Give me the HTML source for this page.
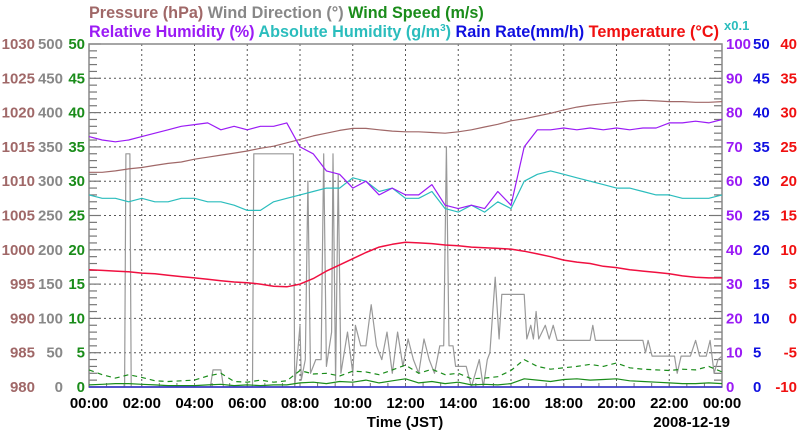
<!DOCTYPE html>
<html><head><meta charset="utf-8"><style>
html,body{margin:0;padding:0;background:#fff;}
svg{display:block;font-family:"Liberation Sans",Arial,sans-serif;}
</style></head><body>
<svg id="chart" width="800" height="434" viewBox="0 0 800 434" xmlns="http://www.w3.org/2000/svg">
<g font-size="16.2" font-weight="bold">
<text x="89" y="18"><tspan fill="#a06868">Pressure (hPa)</tspan> <tspan fill="#888">Wind Direction (°)</tspan> <tspan fill="#1a8c1a">Wind Speed (m/s)</tspan></text>
<text x="89" y="37"><tspan fill="#9b1bf5">Relative Humidity (%)</tspan> <tspan fill="#2bbdbd">Absolute Humidity (g/m</tspan><tspan fill="#2bbdbd" font-size="10" dy="-6">3</tspan><tspan fill="#2bbdbd" dy="6">)</tspan> <tspan fill="#1010e0">Rain Rate(mm/h)</tspan> <tspan fill="#f01010">Temperature (°C)</tspan></text>
<text x="724" y="30" font-size="13" fill="#2bbdbd">x0.1</text>
</g>
<g id="grid"></g><g id="axes"></g><g id="series"></g>
</svg>
<script>
const hours = [0,0.5,1,1.5,2,2.5,3,3.5,4,4.5,5,5.5,6,6.5,7,7.5,8,8.5,9,9.5,10,10.5,11,11.5,12,12.5,13,13.5,14,14.5,15,15.5,16,16.5,17,17.5,18,18.5,19,19.5,20,20.5,21,21.5,22,22.5,23,23.5,24];
const pressure = [1011.3,1011.3,1011.5,1011.8,1012.0,1012.3,1012.6,1012.8,1013.2,1013.5,1013.8,1014.1,1014.4,1014.8,1015.1,1015.6,1016.1,1016.6,1017.0,1017.4,1017.7,1017.7,1017.5,1017.3,1017.2,1017.2,1017.1,1017.0,1017.2,1017.5,1017.9,1018.3,1018.8,1019.1,1019.5,1019.9,1020.4,1020.8,1021.1,1021.3,1021.5,1021.7,1021.8,1021.7,1021.6,1021.6,1021.5,1021.5,1021.6];
const relHumidity = [73,72,71.5,72,73,74,75,76,76.5,77,75,76,75,76,76,77,70,68,63,62,58,60,56,58,56,56,59,53,52,53,52,57,53,70,75,75,75.5,75,75.5,75,75.5,75,75.5,75.5,77,77,77.5,77,78];
const absHumidity10 = [56,55,55,54,55,54,54,55,55,54,54,53,51.5,51.5,54,55,56,57,58,58,61,60,57,58,55,55,57,52,51,53,51,54,52,60,62,63,62,61,60,59,58,58,57,56,56,55,55,55,56];
const temperature = [7.1,7.0,6.9,6.8,6.6,6.5,6.3,6.1,5.9,5.7,5.5,5.3,5.2,5.0,4.7,4.6,5.0,5.8,6.9,7.8,8.7,9.6,10.4,10.8,11.1,11.0,10.9,10.7,10.6,10.4,10.3,10.2,10.1,9.8,9.4,9.0,8.5,8.2,8.0,7.6,7.4,7.1,6.9,6.7,6.5,6.2,6.0,5.9,5.9];
const windAvg = [0.3,0.4,0.5,0.5,0.4,0.3,0.2,0.2,0.2,0.3,0.4,0.2,0.3,0.2,0.3,0.3,0.6,0.7,0.5,0.8,0.7,1.0,0.6,0.9,1.2,0.6,0.8,0.5,0.7,0.3,0.4,0.3,0.5,1.2,1.0,0.8,1.1,1.2,1.0,1.1,1.2,0.9,0.8,0.7,0.6,0.5,0.5,0.6,0.5];
const windGust = [2.5,1.8,1.3,1.8,1.4,0.9,0.8,0.9,1.0,1.6,2.0,0.8,0.7,1.0,0.7,0.9,2.4,1.9,2.0,1.6,2.3,2.2,1.8,2.5,3.2,2.0,2.6,1.8,2.0,1.2,1.3,1.5,2.4,4.0,3.0,2.6,2.8,3.0,3.3,3.0,3.5,2.8,2.6,2.5,2.4,2.6,2.5,3.0,2.2];
const rainRate = [0,0,0,0,0,0,0,0,0,0,0,0,0,0,0,0,0,0,0,0,0,0,0,0,0,0,0,0,0,0,0,0,0,0,0,0,0,0,0,0,0,0,0,0,0,0,0,0,0];
const windDirTime = [0,1.35,1.4,1.55,1.6,4.6,4.7,5.0,5.1,6.2,6.25,7.75,7.8,8.0,8.05,8.2,8.3,8.4,8.6,8.8,8.9,9.0,9.2,9.25,9.35,9.45,9.55,9.8,10.0,10.1,10.3,10.5,10.7,10.9,11.1,11.3,11.5,11.7,11.9,12.1,12.3,12.5,12.7,12.9,13.1,13.3,13.45,13.55,13.65,13.8,13.9,14.3,14.5,14.8,14.95,15.1,15.2,15.4,15.55,15.65,16.5,16.6,16.75,16.85,16.95,17.05,17.3,17.45,17.6,17.75,19.0,19.1,19.2,21.0,21.1,21.2,21.35,22.2,22.3,22.45,22.8,23.0,23.15,23.4,23.55,23.7,23.85,24.0];
const windDir = [0,0,340,340,0,0,25,25,0,0,340,340,0,90,10,40,300,20,40,40,340,30,80,340,10,310,20,80,20,90,60,60,120,60,40,80,20,80,30,70,40,20,70,40,20,60,60,350,60,60,30,30,0,40,0,40,50,160,70,135,135,70,90,70,110,70,90,70,90,68,68,90,68,68,50,68,45,45,20,45,45,68,45,45,68,20,40,45];
const xTickLabels = ["00:00","02:00","04:00","06:00","08:00","10:00","12:00","14:00","16:00","18:00","20:00","22:00","00:00"];
const pressureTicks = [980,985,990,995,1000,1005,1010,1015,1020,1025,1030];
const windDirTicks = [0,50,100,150,200,250,300,350,400,450,500];
const windSpeedTicks = [0,5,10,15,20,25,30,35,40,45,50];
const rhTicks = [0,10,20,30,40,50,60,70,80,90,100];
const rainTicks = [0,5,10,15,20,25,30,35,40,45,50];
const tempTicks = [-10,-5,0,5,10,15,20,25,30,35,40];

const L=89,R=722,T=44,B=387,H=B-T,W=R-L;
const NS="http://www.w3.org/2000/svg";
const x=h=>L+h*W/24;
const yFrac=f=>B-f*H;
const yP=v=>yFrac((v-980)/50);
const yWD=v=>yFrac(v/500);
const yWS=v=>yFrac(v/50);
const yRH=v=>yFrac(v/100);
const yRain=v=>yFrac(v/50);
const yT=v=>yFrac((v+10)/50);
function mk(tag,attrs,parent){const e=document.createElementNS(NS,tag);for(const k in attrs)e.setAttribute(k,attrs[k]);parent.appendChild(e);return e;}
const grid=document.getElementById('grid'),axes=document.getElementById('axes'),series=document.getElementById('series');
for(let i=1;i<10;i++){const y=yFrac(i/10);const g=mk('line',{x1:L,x2:R,y1:y,y2:y,stroke:'#555','stroke-width':1,'stroke-dasharray':'2,3'},grid);

}
for(let i=1;i<12;i++){const xx=x(i*2);const g=mk('line',{x1:xx,x2:xx,y1:T,y2:B,stroke:'#555','stroke-width':1,'stroke-dasharray':'2,3'},grid);

}
for(let i=0;i<=50;i++){const y=yFrac(i/50);const len=i%5==0?12:8;
mk('line',{x1:L,x2:L+len,y1:y,y2:y,stroke:'#777','stroke-width':1.2},axes);
mk('line',{x1:R-len,x2:R,y1:y,y2:y,stroke:'#777','stroke-width':1.2},axes);}
for(let i=0;i<=36;i++){const xx=x(i*2/3);mk('line',{x1:xx,x2:xx,y1:B,y2:B-4,stroke:'#777','stroke-width':1},axes);}
const frame=mk('rect',{x:L,y:T,width:W,height:H,fill:'none',stroke:'#888','stroke-width':1.5},axes);


function col(ticks,yf,xpos,anchor,color,name){ticks.forEach((v,i)=>{const t=mk('text',{x:xpos,y:yFrac(i/10)+5,'text-anchor':anchor,fill:color,'font-size':15,'font-weight':'bold'},axes);t.textContent=v;

});}
col(pressureTicks,0,35,'end','#a06868','pressure-tick-label');
col(windDirTicks,0,63,'end','#888','wind-direction-tick-label');
col(windSpeedTicks,0,85,'end','#1a8c1a','wind-speed-tick-label');
col(rhTicks,0,726,'start','#9b1bf5','humidity-tick-label');
col(rainTicks,0,753,'start','#1010e0','rain-rate-tick-label');
col(tempTicks,0,797,'end','#f01010','temperature-tick-label');
xTickLabels.forEach((s,i)=>{const t=mk('text',{x:x(i*2),y:408,'text-anchor':'middle','font-size':15,'font-weight':'bold',fill:'#000'},axes);t.textContent=s;

});
let t1=mk('text',{x:405,y:427,'text-anchor':'middle','font-size':15,'font-weight':'bold'},axes);t1.textContent='Time (JST)';


let t2=mk('text',{x:730,y:427,'text-anchor':'end','font-size':15,'font-weight':'bold'},axes);t2.textContent='2008-12-19';


function line(xs,vs,yf,color,name,dash,w){const d=xs.map((h,i)=>(i?'L':'M')+x(h).toFixed(1)+','+yf(vs[i]).toFixed(1)).join('');
const p=mk('path',{d:d,fill:'none',stroke:color,'stroke-width':w||1.2,'stroke-linejoin':'round'},series);if(dash)p.setAttribute('stroke-dasharray',dash);

}
line(windDirTime,windDir,yWD,'#999','wind-direction-line');
line(hours,windGust,yWS,'#1a8c1a','wind-gust-line','5,4');
line(hours,windAvg,yWS,'#1a8c1a','wind-speed-line');
line(hours,rainRate,yRain,'#3030d0','rain-rate-line',null,1.5);
line(hours,pressure,yP,'#a06868','pressure-line');
line(hours,absHumidity10,yRH,'#2bbdbd','absolute-humidity-line');
line(hours,relHumidity,yRH,'#9b1bf5','relative-humidity-line');
line(hours,temperature,yT,'#f01040','temperature-line',null,1.5);
</script>
</body></html>
